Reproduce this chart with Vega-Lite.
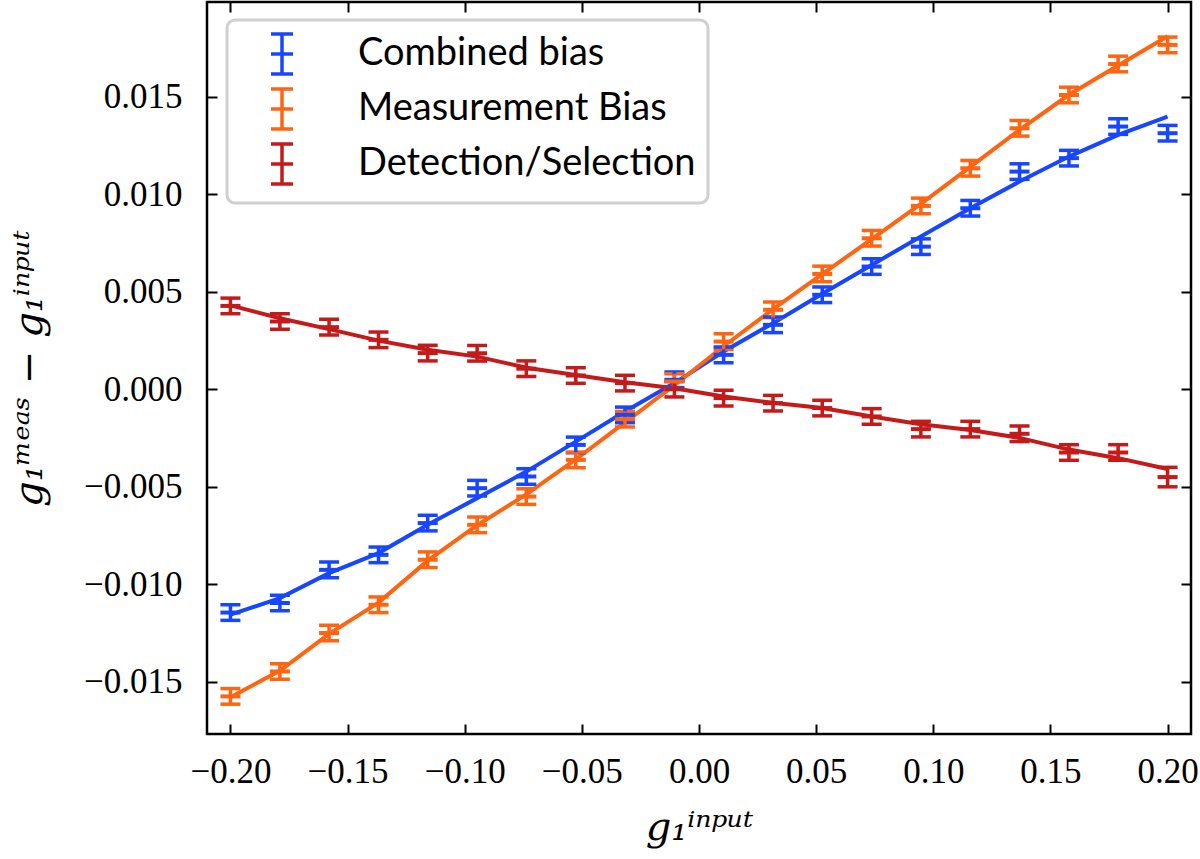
{
  "$schema": "https://vega.github.io/schema/vega-lite/v6.json",
  "autosize": {"type": "none"},
  "padding": {"left": 207, "top": 2, "right": 9, "bottom": 125},
  "width": 984,
  "height": 732,
  "background": "white",
  "config": {
    "view": {"stroke": "black", "strokeWidth": 2.5},
    "axis": {
      "grid": false,
      "domain": false,
      "tickColor": "black",
      "tickWidth": 2,
      "tickSize": -10,
      "labelColor": "black",
      "labelFont": "Liberation Serif",
      "labelFontSize": 35,
      "titleFont": "DejaVu Serif",
      "titleFontWeight": "normal",
      "titleFontStyle": "italic",
      "titleColor": "black",
      "titleFontSize": 40
    },
    "legend": {
      "orient": "none",
      "legendX": 20,
      "legendY": 18,
      "padding": 12,
      "fillColor": "rgba(255,255,255,0.8)",
      "strokeColor": "#d0d0d0",
      "strokeWidth": 3,
      "cornerRadius": 8,
      "labelFont": "Lato",
      "labelFontSize": 38,
      "labelColor": "black",
      "labelLimit": 0,
      "symbolType": "M0,-1L0,1M-0.55,-1L0.55,-1M-0.55,1L0.55,1M-0.55,0L0.55,0",
      "symbolSize": 1600,
      "symbolStrokeWidth": 3.5,
      "symbolOpacity": 1,
      "symbolOffset": 21,
      "labelOffset": 54,
      "rowPadding": 1
    }
  },
  "data": {
    "values": [
      {"g": -0.2, "series": "Combined bias", "bias": -0.01146, "err": 0.0004, "fit": -0.01157},
      {"g": -0.1789, "series": "Combined bias", "bias": -0.01097, "err": 0.0004, "fit": -0.01072},
      {"g": -0.1579, "series": "Combined bias", "bias": -0.00927, "err": 0.0004, "fit": -0.00944},
      {"g": -0.1368, "series": "Combined bias", "bias": -0.0085, "err": 0.0004, "fit": -0.00841},
      {"g": -0.1158, "series": "Combined bias", "bias": -0.00687, "err": 0.0004, "fit": -0.00696},
      {"g": -0.0947, "series": "Combined bias", "bias": -0.00508, "err": 0.0004, "fit": -0.00559},
      {"g": -0.0737, "series": "Combined bias", "bias": -0.00448, "err": 0.0004, "fit": -0.00423},
      {"g": -0.0526, "series": "Combined bias", "bias": -0.00286, "err": 0.0004, "fit": -0.00269},
      {"g": -0.0316, "series": "Combined bias", "bias": -0.00132, "err": 0.0004, "fit": -0.00115},
      {"g": -0.0105, "series": "Combined bias", "bias": 0.00048, "err": 0.0004, "fit": 0.00031},
      {"g": 0.0105, "series": "Combined bias", "bias": 0.00176, "err": 0.0004, "fit": 0.00193},
      {"g": 0.0316, "series": "Combined bias", "bias": 0.0033, "err": 0.0004, "fit": 0.00338},
      {"g": 0.0526, "series": "Combined bias", "bias": 0.00484, "err": 0.0004, "fit": 0.00489},
      {"g": 0.0737, "series": "Combined bias", "bias": 0.00629, "err": 0.0004, "fit": 0.00637},
      {"g": 0.0947, "series": "Combined bias", "bias": 0.00731, "err": 0.0004, "fit": 0.00783},
      {"g": 0.1158, "series": "Combined bias", "bias": 0.00928, "err": 0.0004, "fit": 0.00928},
      {"g": 0.1368, "series": "Combined bias", "bias": 0.01116, "err": 0.0004, "fit": 0.01065},
      {"g": 0.1579, "series": "Combined bias", "bias": 0.01185, "err": 0.0004, "fit": 0.01193},
      {"g": 0.1789, "series": "Combined bias", "bias": 0.01347, "err": 0.0004, "fit": 0.01304},
      {"g": 0.2, "series": "Combined bias", "bias": 0.01313, "err": 0.0004, "fit": 0.01398},
      {"g": -0.2, "series": "Measurement Bias", "bias": -0.01576, "err": 0.0004, "fit": -0.0158},
      {"g": -0.1789, "series": "Measurement Bias", "bias": -0.01448, "err": 0.0004, "fit": -0.01445},
      {"g": -0.1579, "series": "Measurement Bias", "bias": -0.01251, "err": 0.0004, "fit": -0.01255},
      {"g": -0.1368, "series": "Measurement Bias", "bias": -0.01106, "err": 0.0004, "fit": -0.01095},
      {"g": -0.1158, "series": "Measurement Bias", "bias": -0.00875, "err": 0.0004, "fit": -0.0088},
      {"g": -0.0947, "series": "Measurement Bias", "bias": -0.00696, "err": 0.0004, "fit": -0.00698},
      {"g": -0.0737, "series": "Measurement Bias", "bias": -0.00551, "err": 0.0004, "fit": -0.0054},
      {"g": -0.0526, "series": "Measurement Bias", "bias": -0.00363, "err": 0.0004, "fit": -0.0036},
      {"g": -0.0316, "series": "Measurement Bias", "bias": -0.00154, "err": 0.0004, "fit": -0.0017},
      {"g": -0.0105, "series": "Measurement Bias", "bias": 0.00039, "err": 0.0004, "fit": 0.0002},
      {"g": 0.0105, "series": "Measurement Bias", "bias": 0.00244, "err": 0.0004, "fit": 0.0022},
      {"g": 0.0316, "series": "Measurement Bias", "bias": 0.00407, "err": 0.0004, "fit": 0.0041},
      {"g": 0.0526, "series": "Measurement Bias", "bias": 0.00591, "err": 0.0004, "fit": 0.0059},
      {"g": 0.0737, "series": "Measurement Bias", "bias": 0.00774, "err": 0.0004, "fit": 0.0077},
      {"g": 0.0947, "series": "Measurement Bias", "bias": 0.0094, "err": 0.0004, "fit": 0.0095},
      {"g": 0.1158, "series": "Measurement Bias", "bias": 0.01133, "err": 0.0004, "fit": 0.0114},
      {"g": 0.1368, "series": "Measurement Bias", "bias": 0.01338, "err": 0.0004, "fit": 0.0133},
      {"g": 0.1579, "series": "Measurement Bias", "bias": 0.01509, "err": 0.0004, "fit": 0.0151},
      {"g": 0.1789, "series": "Measurement Bias", "bias": 0.01668, "err": 0.0004, "fit": 0.0166},
      {"g": 0.2, "series": "Measurement Bias", "bias": 0.01766, "err": 0.0004, "fit": 0.0181},
      {"g": -0.2, "series": "Detection/Selection", "bias": 0.00427, "err": 0.0004, "fit": 0.0043},
      {"g": -0.1789, "series": "Detection/Selection", "bias": 0.00347, "err": 0.0004, "fit": 0.00364},
      {"g": -0.1579, "series": "Detection/Selection", "bias": 0.00318, "err": 0.0004, "fit": 0.00308},
      {"g": -0.1368, "series": "Detection/Selection", "bias": 0.00253, "err": 0.0004, "fit": 0.00249},
      {"g": -0.1158, "series": "Detection/Selection", "bias": 0.00185, "err": 0.0004, "fit": 0.00202},
      {"g": -0.0947, "series": "Detection/Selection", "bias": 0.00184, "err": 0.0004, "fit": 0.00167},
      {"g": -0.0737, "series": "Detection/Selection", "bias": 0.00105, "err": 0.0004, "fit": 0.0011},
      {"g": -0.0526, "series": "Detection/Selection", "bias": 0.0007, "err": 0.0004, "fit": 0.00073},
      {"g": -0.0316, "series": "Detection/Selection", "bias": 0.00031, "err": 0.0004, "fit": 0.00035},
      {"g": -0.0105, "series": "Detection/Selection", "bias": 0.0, "err": 0.0004, "fit": 0.00005},
      {"g": 0.0105, "series": "Detection/Selection", "bias": -0.00046, "err": 0.0004, "fit": -0.00038},
      {"g": 0.0316, "series": "Detection/Selection", "bias": -0.00072, "err": 0.0004, "fit": -0.0007},
      {"g": 0.0526, "series": "Detection/Selection", "bias": -0.00097, "err": 0.0004, "fit": -0.00097},
      {"g": 0.0737, "series": "Detection/Selection", "bias": -0.0014, "err": 0.0004, "fit": -0.0014},
      {"g": 0.0947, "series": "Detection/Selection", "bias": -0.00205, "err": 0.0004, "fit": -0.0018},
      {"g": 0.1158, "series": "Detection/Selection", "bias": -0.00205, "err": 0.0004, "fit": -0.0021},
      {"g": 0.1368, "series": "Detection/Selection", "bias": -0.00229, "err": 0.0004, "fit": -0.0025},
      {"g": 0.1579, "series": "Detection/Selection", "bias": -0.00325, "err": 0.0004, "fit": -0.0031},
      {"g": 0.1789, "series": "Detection/Selection", "bias": -0.00325, "err": 0.0004, "fit": -0.00354},
      {"g": 0.2, "series": "Detection/Selection", "bias": -0.00451, "err": 0.0005, "fit": -0.0041}
    ]
  },
  "resolve": {"axis": {"x": "independent", "y": "independent"}},
  "layer": [
    {
      "mark": {"type": "line", "strokeWidth": 4},
      "encoding": {
        "x": {
          "field": "g", "type": "quantitative",
          "scale": {"domain": [-0.21, 0.21], "nice": false, "zero": false},
          "axis": {"orient": "bottom", "values": [-0.2, -0.15, -0.1, -0.05, 0, 0.05, 0.1, 0.15, 0.2], "format": ".2f", "labelPadding": 30, "title": "g₁ⁱⁿᵖᵘᵗ", "titlePadding": 18}
        },
        "y": {
          "field": "fit", "type": "quantitative",
          "scale": {"domain": [-0.01769, 0.01986], "nice": false, "zero": false},
          "axis": {"orient": "left", "values": [-0.015, -0.01, -0.005, 0, 0.005, 0.01, 0.015], "format": ".3f", "labelPadding": 35, "title": "g₁ᵐᵉᵃˢ − g₁ⁱⁿᵖᵘᵗ", "titlePadding": 34}
        },
        "color": {
          "field": "series", "type": "nominal",
          "scale": {"domain": ["Combined bias", "Measurement Bias", "Detection/Selection"], "range": ["#1846ff", "#ff6410", "#c41a1a"]},
          "legend": {"title": null}
        }
      }
    },
    {
      "mark": {"type": "errorbar", "opacity": 1, "ticks": {"size": 20, "thickness": 3.5, "opacity": 1}, "rule": {"opacity": 1}, "thickness": 3.5},
      "encoding": {
        "x": {"field": "g", "type": "quantitative", "axis": null},
        "y": {"field": "bias", "type": "quantitative", "axis": null},
        "yError": {"field": "err"},
        "color": {"field": "series", "type": "nominal"}
      }
    },
    {
      "mark": {"type": "point", "shape": "stroke", "size": 400, "strokeWidth": 4, "opacity": 1},
      "encoding": {
        "x": {"field": "g", "type": "quantitative", "axis": {"orient": "top", "labels": false, "title": null, "values": [-0.2, -0.15, -0.1, -0.05, 0, 0.05, 0.1, 0.15, 0.2]}},
        "y": {"field": "bias", "type": "quantitative", "axis": {"orient": "right", "labels": false, "title": null, "values": [-0.015, -0.01, -0.005, 0, 0.005, 0.01, 0.015]}},
        "color": {"field": "series", "type": "nominal"}
      }
    }
  ]
}
